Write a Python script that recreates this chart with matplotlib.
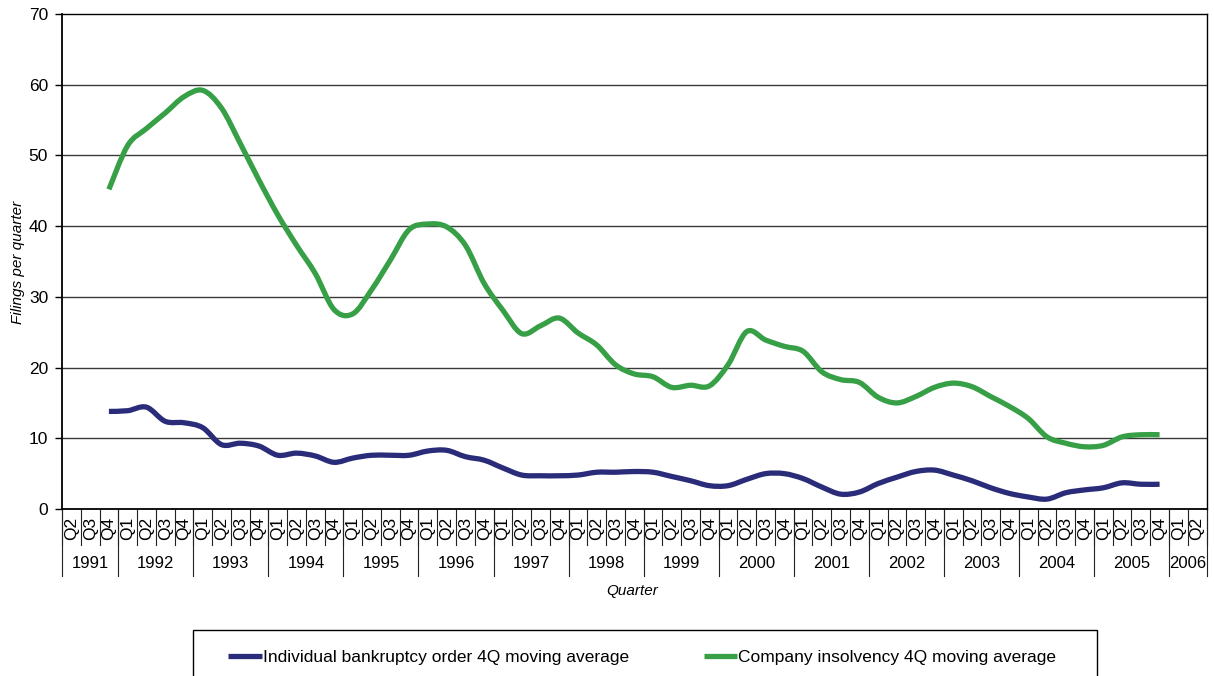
import numpy as np
import matplotlib
matplotlib.use("Agg")
import matplotlib.pyplot as plt
from matplotlib.path import Path
from matplotlib.patches import PathPatch, Rectangle
from matplotlib.lines import Line2D
import matplotlib.transforms as mtransforms

plt.rcParams['font.family'] = ['Liberation Sans', 'DejaVu Sans']

# ---------------- data ----------------
quarters = ['Q2', 'Q3', 'Q4'] + ['Q1', 'Q2', 'Q3', 'Q4'] * 14 + ['Q1', 'Q2']
years = ['1991', '1992', '1993', '1994', '1995', '1996', '1997', '1998',
         '1999', '2000', '2001', '2002', '2003', '2004', '2005', '2006']
year_counts = [3] + [4] * 14 + [2]

# values from 1991 Q4 to 2005 Q4
individual = [13.8, 13.9, 14.4, 12.4, 12.2, 11.5, 9.1, 9.3, 8.9, 7.6, 7.9, 7.5,
              6.6, 7.2, 7.6, 7.6, 7.6, 8.2, 8.3, 7.4, 6.9, 5.8, 4.8, 4.7, 4.7,
              4.8, 5.2, 5.2, 5.3, 5.2, 4.6, 4.0, 3.3, 3.3, 4.2, 5.0, 5.0, 4.3,
              3.1, 2.1, 2.4, 3.6, 4.5, 5.3, 5.5, 4.8, 4.0, 3.0, 2.2, 1.7, 1.4,
              2.3, 2.7, 3.0, 3.7, 3.5, 3.5]
company = [45.2, 51.4, 53.8, 56.0, 58.3, 59.2, 56.7, 51.7, 46.5, 41.6, 37.3,
           33.3, 28.2, 27.6, 31.0, 35.2, 39.5, 40.3, 39.9, 37.3, 31.9, 28.1,
           24.8, 25.9, 27.0, 24.9, 23.2, 20.4, 19.1, 18.7, 17.2, 17.5, 17.4,
           20.4, 25.1, 23.9, 23.0, 22.3, 19.4, 18.3, 17.9, 15.8, 15.0, 15.9,
           17.2, 17.8, 17.3, 15.9, 14.5, 12.8, 10.2, 9.3, 8.8, 9.0, 10.2,
           10.5, 10.5]
series_start = 2  # index of 1991 Q4 in the category list

labels = ['Individual bankruptcy order 4Q moving average',
          'Company insolvency 4Q moving average']
colors = ['#2A2C7A', '#37A047']

# ---------------- figure ----------------
W, H = 1214, 676
fig = plt.figure(figsize=(W / 100, H / 100), dpi=100)
ax = fig.add_axes([62 / W, 1 - 509 / H, (1206.5 - 62) / W, (509 - 14) / H])

n = len(quarters)
ax.set_xlim(-0.5, n - 0.5)
ax.set_ylim(0, 70)
ax.set_yticks(np.arange(0, 71, 10))
ax.tick_params(axis='y', direction='out', length=5, width=1, pad=5,
               labelsize=12.5, colors='black')
ax.set_xticks([])
for y in range(10, 70, 10):
    ax.axhline(y, color='#3a3a3a', lw=1, zorder=1)
for s in ['left', 'bottom', 'top', 'right']:
    ax.spines[s].set_color('black')
    ax.spines[s].set_linewidth(1)
ax.spines['left'].set_linewidth(1.3)
ax.spines['bottom'].set_linewidth(1.3)


def smooth_path(xs, ys):
    pts = np.column_stack([xs, ys]).astype(float)
    m = len(pts)
    verts = [pts[0]]
    codes = [Path.MOVETO]
    for k in range(m - 1):
        p0 = pts[k - 1] if k > 0 else pts[k]
        p1 = pts[k]
        p2 = pts[k + 1]
        p3 = pts[k + 2] if k + 2 < m else pts[k + 1]
        c1 = p1 + (p2 - p0) / 6.0
        c2 = p2 - (p3 - p1) / 6.0
        verts += [c1, c2, p2]
        codes += [Path.CURVE4] * 3
    return Path(verts, codes)


for vals, col in zip([individual, company], colors):
    xs = np.arange(series_start, series_start + len(vals))
    patch = PathPatch(smooth_path(xs, vals), fill=False, edgecolor=col,
                      lw=3.8, capstyle='butt', joinstyle='round', zorder=3)
    ax.add_patch(patch)

# ---------------- multi-level category axis ----------------
trans = mtransforms.blended_transform_factory(ax.transData, fig.transFigure)


def fy(px):
    return 1 - px / H


for i in range(n + 1):
    ax.add_line(Line2D([i - 0.5, i - 0.5], [fy(509), fy(545)], transform=trans,
                       color='#222222', lw=0.8, clip_on=False))
for i, q in enumerate(quarters):
    ax.text(i, fy(528), q, transform=trans, rotation=90, ha='center',
            va='center', fontsize=12.5)

pos = -0.5
bounds = [pos]
for yl, c in zip(years, year_counts):
    ax.text(pos + c / 2, fy(564), yl, transform=trans, ha='center',
            va='center', fontsize=12)
    pos += c
    bounds.append(pos)
for b in bounds:
    ax.add_line(Line2D([b, b], [fy(509), fy(576)], transform=trans,
                       color='#222222', lw=0.8, clip_on=False))

fig.text(632 / W, fy(591), 'Quarter', ha='center', va='center',
         fontsize=11, style='italic')
fig.text(18 / W, fy(262), 'Filings per quarter', ha='center', va='center',
         fontsize=11, style='italic', rotation=90)

# ---------------- legend ----------------
fig.patches.append(Rectangle((193 / W, fy(690)), (1097 - 193) / W,
                             (690 - 630) / H, transform=fig.transFigure,
                             fill=False, edgecolor='black', lw=1))
handles = [Line2D([], [], color=c, lw=3.8, solid_capstyle='butt') for c in colors]
fig.legend(handles, labels, loc='center left',
           bbox_to_anchor=(228 / W, fy(657)), ncol=2, frameon=False,
           borderpad=0, borderaxespad=0, handlelength=1.95, handletextpad=0.05,
           columnspacing=4.3, fontsize=12.5)

fig.savefig('out.png', dpi=100)
